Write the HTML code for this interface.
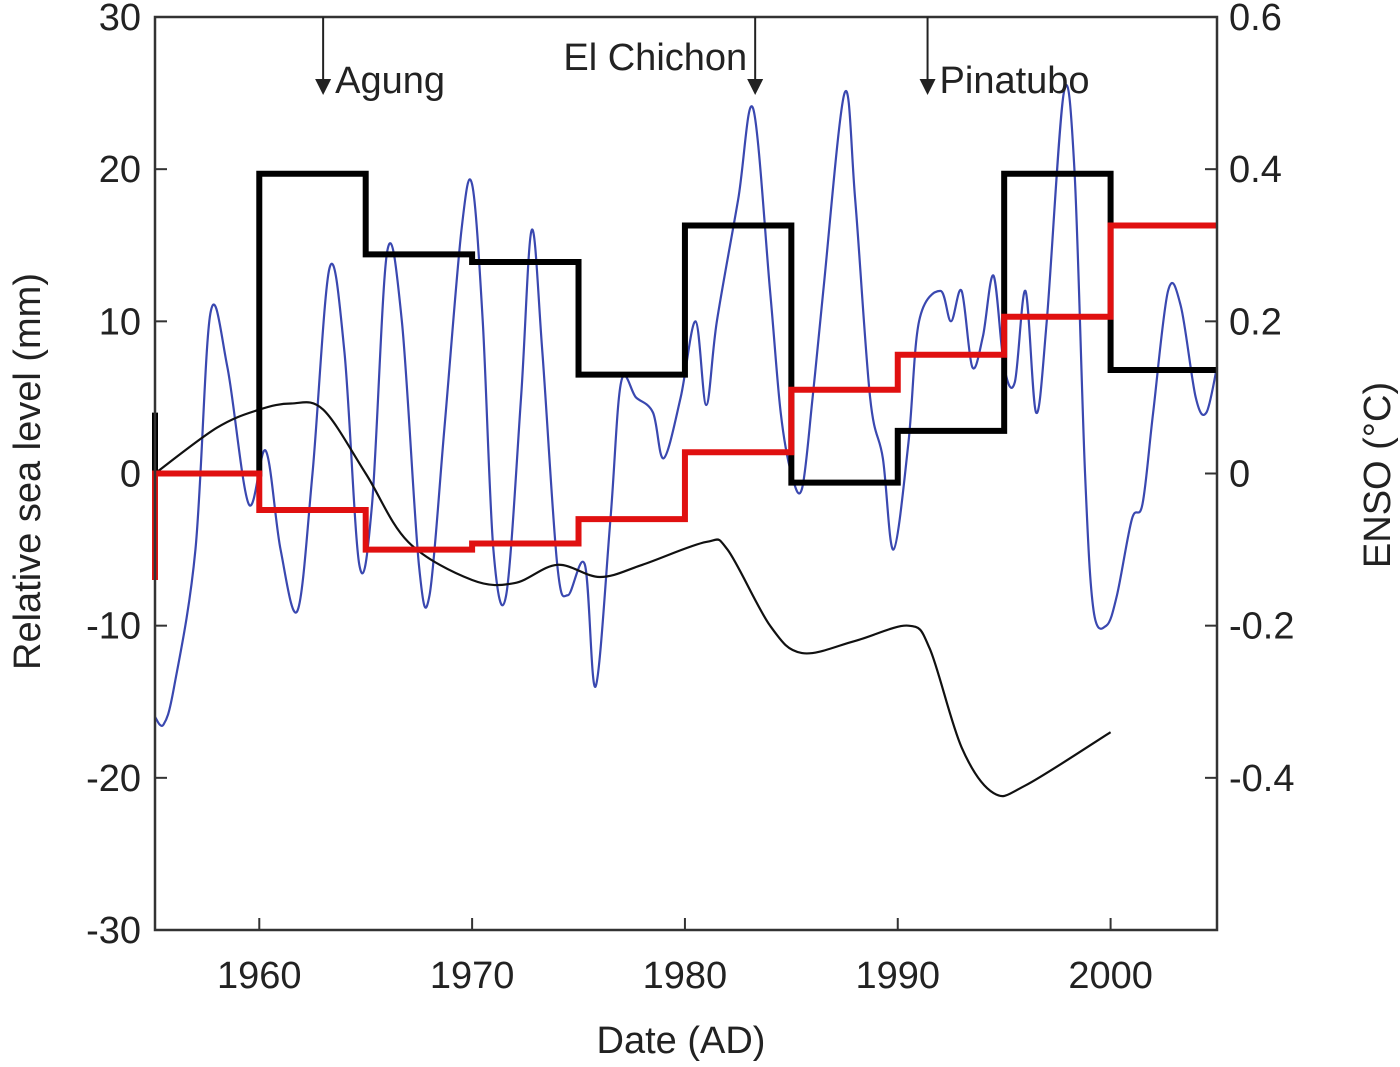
<!DOCTYPE html>
<html><head><meta charset="utf-8"><style>
body{margin:0;background:#fff}
svg text{font-family:"Liberation Sans",sans-serif;fill:#222}
</style></head><body>
<svg id="c" width="1400" height="1062" xmlns="http://www.w3.org/2000/svg"></svg>
<script>
const xTicks=[1960,1970,1980,1990,2000];
const yTicks=[-30,-20,-10,0,10,20,30];
const rTicks=[-0.4,-0.2,0,0.2,0.4,0.6];
const stepYears=[1955,1960,1965,1970,1975,1980,1985,1990,1995,2000,2005];
const blackStep=[0,19.7,14.4,13.9,6.5,16.3,-0.6,2.8,19.7,6.8];
const redStep=[0,-2.4,-5,-4.6,-3,1.4,5.5,7.8,10.3,16.3];
const thinYears=[1955.1,1958,1960,1961.5,1963,1965,1967,1970,1972,1974,1976,1978,1981,1982,1984,1985.5,1988,1990.5,1991.5,1993,1994.5,1996,2000];
const thinVals=[0,3,4.2,4.6,4.2,0,-4.5,-7,-7.2,-6,-6.8,-6,-4.5,-5,-10,-11.8,-11,-10,-11.5,-18,-21,-20.5,-17];
const ensoYears=[1955.1,1955.5,1956,1957,1957.7,1958.5,1959.5,1960.3,1961,1961.8,1962.5,1963.3,1964,1964.7,1965.3,1966,1966.7,1967.5,1968,1968.7,1969.5,1970,1970.5,1971,1971.6,1972.3,1972.8,1973.3,1974,1974.5,1975.3,1975.8,1976.5,1977,1977.7,1978.5,1979,1979.8,1980.5,1981,1981.5,1982.5,1983.2,1984,1984.5,1985,1985.5,1986,1986.5,1987.5,1988,1988.7,1989.3,1989.8,1990.5,1991,1992,1992.5,1993,1993.5,1994,1994.5,1995,1995.5,1996,1996.5,1997,1997.8,1998.3,1998.8,1999.2,1999.8,2000.3,2001,2001.5,2002,2002.7,2003.3,2004,2004.5,2005];
const ensoVals=[-0.32,-0.33,-0.28,-0.1,0.21,0.14,-0.04,0.03,-0.1,-0.18,0,0.27,0.16,-0.12,-0.04,0.29,0.2,-0.12,-0.16,0.06,0.32,0.38,0.2,-0.1,-0.16,0.1,0.32,0.16,-0.12,-0.16,-0.12,-0.28,-0.06,0.12,0.1,0.08,0.02,0.1,0.2,0.09,0.2,0.36,0.48,0.24,0.08,0,-0.02,0.1,0.24,0.5,0.36,0.1,0.02,-0.1,0.04,0.2,0.24,0.2,0.24,0.14,0.18,0.26,0.14,0.12,0.24,0.08,0.2,0.5,0.4,0,-0.18,-0.2,-0.16,-0.06,-0.04,0.08,0.24,0.22,0.1,0.08,0.14];
const volcanoes=["Agung","El Chichon","Pinatubo"];
const volcanoYears=[1963,1983.3,1991.4];

const L=155,R=1217,T=17,B=930;
const x=v=>L+(v-1955.1)/(2005-1955.1)*(R-L);
const y=v=>T+(30-v)/60*(B-T);
const yr=v=>y(v*50);
const svg=document.getElementById('c');
const NS='http://www.w3.org/2000/svg';
function mk(t,a,p){const e=document.createElementNS(NS,t);for(const k in a)e.setAttribute(k,a[k]);(p||svg).appendChild(e);return e;}

xTicks.forEach(v=>{
 const t=mk('line',{x1:x(v),x2:x(v),y1:B,y2:B-12,stroke:'#333','stroke-width':2});
 
 
 const l=mk('text',{x:x(v),y:B+58,'text-anchor':'middle','font-size':38});l.textContent=v;
 
 
});
yTicks.forEach(v=>{
 const t=mk('line',{x1:L,x2:L+12,y1:y(v),y2:y(v),stroke:'#333','stroke-width':2});
 
 
 const l=mk('text',{x:L-14,y:y(v)+13,'text-anchor':'end','font-size':38});l.textContent=v;
 
 
});
rTicks.forEach(v=>{
 const t=mk('line',{x1:R,x2:R-12,y1:yr(v),y2:yr(v),stroke:'#333','stroke-width':2});
 
 
 const l=mk('text',{x:R+12,y:yr(v)+13,'font-size':38});l.textContent=v===0?'0':v.toFixed(1);
 
 
});
function stepPath(vals){let d='';vals.forEach((v,i)=>{const a=x(Math.max(stepYears[i],1955.1)),b=x(stepYears[i+1]);d+=(i?'L':'M')+a+','+y(v)+'L'+b+','+y(v);});return d;}
function linePath(xs,vs,f){return xs.map((t,i)=>(i?'L':'M')+x(t)+','+f(vs[i])).join('');}
function smoothPath(xs,vs,f){
 const P=xs.map((t,i)=>[x(t),f(vs[i])]);
 let d='M'+P[0][0]+','+P[0][1];
 for(let i=0;i<P.length-1;i++){
  const p0=P[Math.max(0,i-1)],p1=P[i],p2=P[i+1],p3=P[Math.min(P.length-1,i+2)];
  const c1=[p1[0]+(p2[0]-p0[0])/6,p1[1]+(p2[1]-p0[1])/6];
  const c2=[p2[0]-(p3[0]-p1[0])/6,p2[1]-(p3[1]-p1[1])/6];
  d+='C'+c1[0]+','+c1[1]+' '+c2[0]+','+c2[1]+' '+p2[0]+','+p2[1];
 }
 return d;
}
const bl=mk('path',{d:smoothPath(ensoYears,ensoVals,yr),fill:'none',stroke:'#3a48b0','stroke-width':2.2,'stroke-linejoin':'round'});


const th=mk('path',{d:smoothPath(thinYears,thinVals,y),fill:'none',stroke:'#111','stroke-width':2.2});


const bs=mk('path',{d:'M'+x(1955.1)+','+y(4)+stepPath(blackStep).replace('M','L'),fill:'none',stroke:'#000','stroke-width':6});


const rs=mk('path',{d:'M'+x(1955.1)+','+y(-7)+stepPath(redStep).replace('M','L'),fill:'none',stroke:'#e01010','stroke-width':6});


const fr=mk('rect',{x:L,y:T,width:R-L,height:B-T,fill:'none',stroke:'#333','stroke-width':2.5});


volcanoes.forEach((n,i)=>{
 const vx=x(volcanoYears[i]);const ay=95;
 const ln=mk('line',{x1:vx,x2:vx,y1:T,y2:ay-14,stroke:'#222','stroke-width':2});
 
 
 const ar=mk('path',{d:`M${vx-8},${ay-16}L${vx+8},${ay-16}L${vx},${ay}Z`,fill:'#222'});
 
 
 const tx=i===1?mk('text',{x:vx-8,y:70,'text-anchor':'end','font-size':38}):mk('text',{x:vx+12,y:93,'font-size':38});
 tx.textContent=n;
 
 
});
const xl=mk('text',{x:(L+R)/2-5,y:1053,'text-anchor':'middle','font-size':38});xl.textContent='Date (AD)';


const yl=mk('text',{x:0,y:0,'text-anchor':'middle','font-size':38,transform:`translate(40,${(T+B)/2-2}) rotate(-90)`});yl.textContent='Relative sea level (mm)';


const rl=mk('text',{x:0,y:0,'text-anchor':'middle','font-size':38,transform:`translate(1390,475) rotate(-90)`});rl.textContent='ENSO (°C)';


</script>
</body></html>
